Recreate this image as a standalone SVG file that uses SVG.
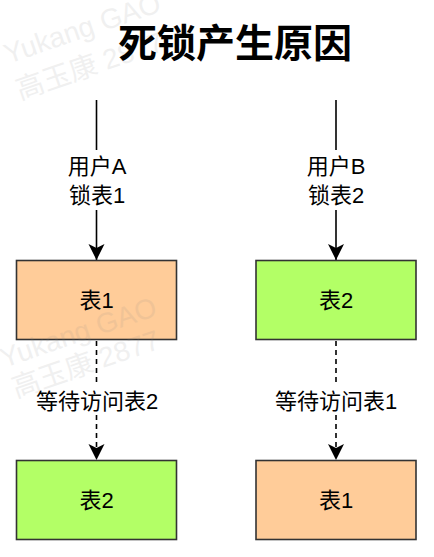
<svg xmlns="http://www.w3.org/2000/svg" width="434" height="557" viewBox="0 0 434 557">
  <defs>
    <marker id="arrow" markerUnits="userSpaceOnUse" markerWidth="16" markerHeight="18" viewBox="0 0 16 18" refX="16" refY="9" orient="auto">
      <path d="M0,1 L16,9 L0,17 L4,9 Z" fill="#000"/>
    </marker>
    <style>
      .bg { fill: #ffffff; }
      .title { font-family: "Noto Sans CJK SC", "Liberation Sans", sans-serif; font-size: 39px; font-weight: bold; fill: #000; }
      .lbl { font-family: "Liberation Sans", "Noto Sans CJK SC", sans-serif; font-size: 22px; fill: #000; }
      .box { stroke: #333333; stroke-width: 1.6; }
      .orange { fill: #FFCC99; }
      .green { fill: #B3FF66; }
      .edge { stroke: #000; stroke-width: 1.6; fill: none; }
      .dash { stroke-dasharray: 5 4; }
      .wm { font-family: "Liberation Sans", "Noto Sans CJK SC", sans-serif; font-size: 28px; fill: #888; opacity: 0.12; }
    </style>
  </defs>

  <rect class="bg" x="0" y="0" width="434" height="557"/>

  <!-- watermark, upper copy (behind the title) -->
  <g id="watermark-top">
    <text class="wm" transform="translate(8,64) rotate(-19)">Yukang GAO</text>
    <text class="wm" transform="translate(20,100) rotate(-19)">高玉康 2877</text>
  </g>

  <text class="title" x="235" y="40" text-anchor="middle" dominant-baseline="central">死锁产生原因</text>

  <!-- connectors -->
  <g id="connectors">
    <line class="edge" x1="96.5" y1="100" x2="96.5" y2="150"/>
    <line class="edge" x1="96.5" y1="210" x2="96.5" y2="260" marker-end="url(#arrow)"/>
    <line class="edge" x1="336" y1="100" x2="336" y2="150"/>
    <line class="edge" x1="336" y1="210" x2="336" y2="260" marker-end="url(#arrow)"/>
    <line class="edge dash" x1="96.5" y1="341" x2="96.5" y2="385"/>
    <line class="edge dash" x1="96.5" y1="415" x2="96.5" y2="460" marker-end="url(#arrow)"/>
    <line class="edge dash" x1="336" y1="341" x2="336" y2="385"/>
    <line class="edge dash" x1="336" y1="415" x2="336" y2="460" marker-end="url(#arrow)"/>
    <text class="lbl" x="97" y="166" text-anchor="middle" dominant-baseline="central">用户A</text>
    <text class="lbl" x="97" y="195" text-anchor="middle" dominant-baseline="central">锁表1</text>
    <text class="lbl" x="336" y="166" text-anchor="middle" dominant-baseline="central">用户B</text>
    <text class="lbl" x="336" y="195" text-anchor="middle" dominant-baseline="central">锁表2</text>
    <text class="lbl" x="97" y="401" text-anchor="middle" dominant-baseline="central">等待访问表2</text>
    <text class="lbl" x="336" y="401" text-anchor="middle" dominant-baseline="central">等待访问表1</text>
  </g>

  <!-- nodes -->
  <g id="table1-a">
    <rect class="box orange" x="16.5" y="260.5" width="160" height="79"/>
    <text class="lbl" x="96.5" y="300.5" text-anchor="middle" dominant-baseline="central">表1</text>
  </g>
  <g id="table2-b">
    <rect class="box green" x="256" y="260.5" width="160" height="79"/>
    <text class="lbl" x="336" y="300.5" text-anchor="middle" dominant-baseline="central">表2</text>
  </g>
  <g id="table2-a">
    <rect class="box green" x="16.5" y="460.5" width="160" height="79"/>
    <text class="lbl" x="96.5" y="500.5" text-anchor="middle" dominant-baseline="central">表2</text>
  </g>
  <g id="table1-b">
    <rect class="box orange" x="256" y="460.5" width="160" height="79"/>
    <text class="lbl" x="336" y="500.5" text-anchor="middle" dominant-baseline="central">表1</text>
  </g>

  <!-- watermark, lower copy (over the first node) -->
  <g id="watermark-mid">
    <text class="wm" transform="translate(4,368) rotate(-19)">Yukang GAO</text>
    <text class="wm" transform="translate(16,398) rotate(-19)">高玉康 2877</text>
  </g>
</svg>
